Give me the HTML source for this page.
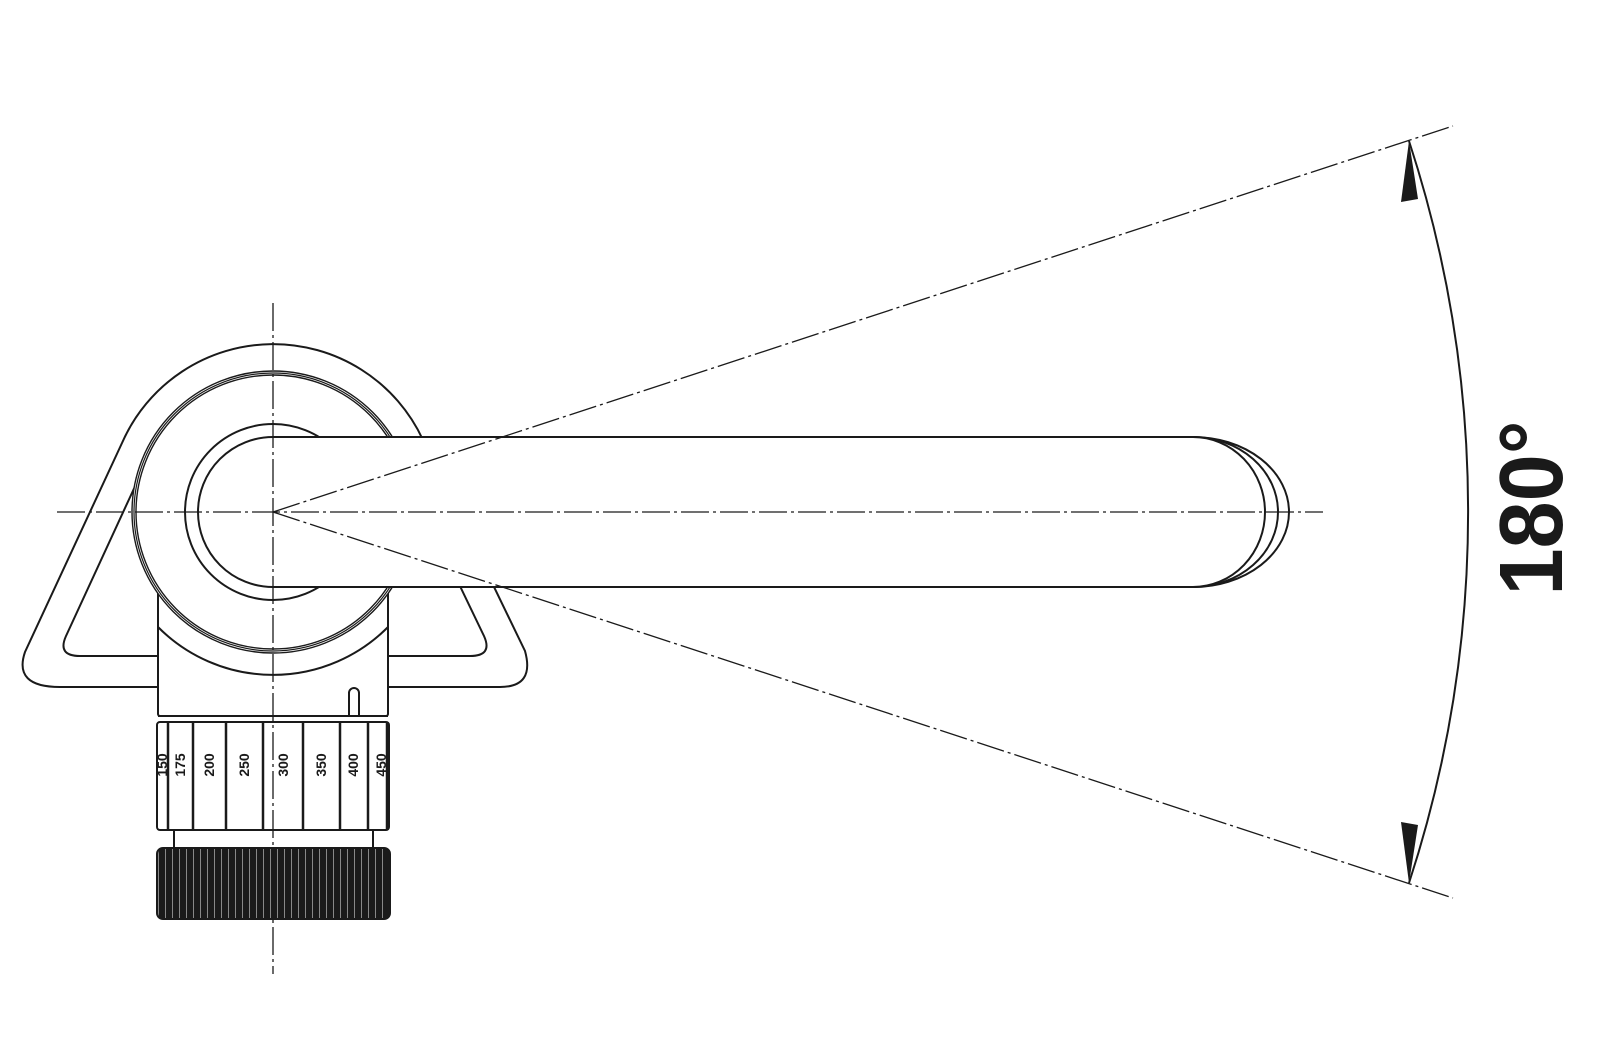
<!DOCTYPE html>
<html><head><meta charset="utf-8"><style>
html,body{margin:0;padding:0;background:#fff;}
svg{display:block;}
</style></head><body>
<svg width="1600" height="1044" viewBox="0 0 1600 1044" xmlns="http://www.w3.org/2000/svg">
<defs>
<pattern id="knurl" x="0" y="0" width="7" height="10" patternUnits="userSpaceOnUse">
<rect width="7" height="10" fill="#1a1a1a"/>
<rect x="4" width="1" height="10" fill="#888"/>
</pattern>
</defs>
<g fill="none" stroke="#1a1a1a" stroke-width="2">
<path d="M122 443 A165 165 0 0 1 423 440 L525 651 Q535 687 500 687 L60 687 Q13 687 25 652 Z" fill="#fff"/>
<path d="M149 456 L66 636 Q57 656 80 656 L158 656" />
<path d="M396 453 L484 636 Q493 656 470 656 L388 656" />
<rect x="158" y="560" width="230" height="156" rx="2" fill="#fff"/>
<path d="M158 627 A162 162 0 0 0 388 627" />
<circle cx="273" cy="512" r="141" fill="#fff" stroke-width="1.4"/>
<circle cx="273" cy="512" r="139" stroke-width="1.2"/>
<circle cx="273" cy="512" r="137" stroke-width="1.4"/>
<circle cx="273" cy="512" r="88"/>
<path d="M1193 437 A96 75 0 0 1 1193 587" />
<path d="M1193 437 A85 75 0 0 1 1193 587" />
<path d="M273 437 L1193 437 A72 75 0 0 1 1193 587 L273 587 A75 75 0 0 1 273 437 Z" fill="#fff"/>
<path d="M349 715 L349 693 A5 5 0 0 1 359 693 L359 715" fill="#fff"/>
<line x1="158" y1="716" x2="388" y2="716"/>
<rect x="157" y="722" width="232" height="108" rx="3" fill="#fff"/>
<g stroke-width="2.5">
<line x1="168" y1="722" x2="168" y2="830"/>
<line x1="193" y1="722" x2="193" y2="830"/>
<line x1="226" y1="722" x2="226" y2="830"/>
<line x1="263" y1="722" x2="263" y2="830"/>
<line x1="303" y1="722" x2="303" y2="830"/>
<line x1="340" y1="722" x2="340" y2="830"/>
<line x1="368" y1="722" x2="368" y2="830"/>
<line x1="387" y1="722" x2="387" y2="830"/>
</g>
<line x1="174" y1="830" x2="174" y2="848"/>
<line x1="373" y1="830" x2="373" y2="848"/>
<rect x="157" y="848" width="233" height="71" rx="6" fill="url(#knurl)"/>
</g>
<g font-family="Liberation Sans, sans-serif" font-weight="bold" font-size="14" fill="#1a1a1a" text-anchor="middle">
<text transform="translate(167,765) rotate(-90)">150</text>
<text transform="translate(185,765) rotate(-90)">175</text>
<text transform="translate(214,765) rotate(-90)">200</text>
<text transform="translate(249,765) rotate(-90)">250</text>
<text transform="translate(288,765) rotate(-90)">300</text>
<text transform="translate(326,765) rotate(-90)">350</text>
<text transform="translate(358,765) rotate(-90)">400</text>
<text transform="translate(386,765) rotate(-90)">450</text>
</g>
<g stroke="#1a1a1a" stroke-width="1.3" fill="none" stroke-dasharray="28 4 3 4">
<line x1="57" y1="512" x2="1323" y2="512"/>
<line x1="273" y1="303" x2="273" y2="974"/>
<line x1="273" y1="512" x2="1453" y2="126"/>
<line x1="273" y1="512" x2="1453" y2="898"/>
</g>
<path d="M1409 141 A1194 1194 0 0 1 1409 883" fill="none" stroke="#1a1a1a" stroke-width="2"/>
<path d="M1409 141 L1418 199 L1401 202 Z" fill="#1a1a1a"/>
<path d="M1409 883 L1418 825 L1401 822 Z" fill="#1a1a1a"/>
<text transform="translate(1562,508) rotate(-90)" font-family="Liberation Sans, sans-serif" font-weight="bold" font-size="90" text-anchor="middle" fill="#1a1a1a" textLength="175" lengthAdjust="spacingAndGlyphs">180°</text>
</svg>
</body></html>
